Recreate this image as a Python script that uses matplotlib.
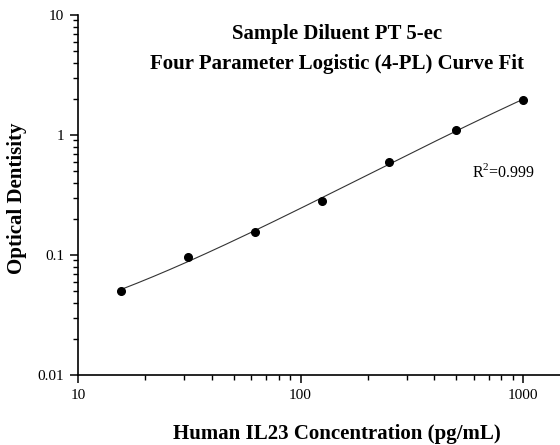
import numpy as np
import matplotlib
matplotlib.use('Agg')
import matplotlib.pyplot as plt
from matplotlib.ticker import LogLocator, FixedLocator, FixedFormatter, NullFormatter

# standard curve points
conc = [15.6, 31.25, 62.5, 125, 250, 500, 1000]
od = [0.050, 0.096, 0.155, 0.280, 0.596, 1.10, 1.96]
x_ticks = [10, 100, 1000]
x_ticklabels = ['10', '100', '1000']
y_ticks = [0.01, 0.1, 1, 10]
y_ticklabels = ['0.01', '0.1', '1', '10']
title = 'Sample Diluent PT 5-ec\nFour Parameter Logistic (4-PL) Curve Fit'
r2_text = 'R$^2$=0.999'

x = np.array(conc)
y = np.array(od)


def fourpl(p, xx):
    a, b, logc, logd = p
    c, d = np.exp(logc), np.exp(logd)
    return d + (a - d) / (1 + (xx / c) ** b)


def resid(p):
    v = fourpl(p, x)
    return np.log(np.clip(v, 1e-9, None)) - np.log(y)


# small Levenberg-Marquardt fit (no scipy)
p = np.array([0.02, 1.0, np.log(2000.0), np.log(10.0)])
lam = 1e-2
r = resid(p)
for it in range(500):
    J = np.zeros((len(x), 4))
    for k in range(4):
        dp = np.zeros(4)
        dp[k] = 1e-6
        J[:, k] = (resid(p + dp) - r) / 1e-6
    H = J.T @ J
    g = J.T @ r
    step = np.linalg.solve(H + lam * np.diag(np.diag(H) + 1e-12), -g)
    pn = p + step
    rn = resid(pn)
    if np.all(np.isfinite(rn)) and rn @ rn < r @ r:
        p, r = pn, rn
        lam = max(lam / 3, 1e-9)
    else:
        lam *= 4

xs = np.logspace(np.log10(x[0]), np.log10(x[-1]), 200)
ys = fourpl(p, xs)

plt.rcParams['font.family'] = ['Liberation Serif', 'DejaVu Serif']
plt.rcParams['mathtext.fontset'] = 'custom'
plt.rcParams['mathtext.rm'] = 'Liberation Serif'

fig = plt.figure(figsize=(5.6, 4.45), dpi=100)
ax = fig.add_axes([78/560, 1-375/445, 1-78/560, 360/445])

ax.plot(xs, ys, color='#333333', linewidth=0.8)
ax.plot(x, y, 'o', color='black', markersize=5.5)

ax.set_xscale('log')
ax.set_yscale('log')
ax.set_xlim(10, 1466)
ax.set_ylim(0.01, 10)

ax.spines['top'].set_visible(False)
ax.spines['right'].set_visible(False)
for s in ['left', 'bottom']:
    ax.spines[s].set_linewidth(1.2)

ax.xaxis.set_major_locator(FixedLocator(x_ticks))
ax.xaxis.set_major_formatter(FixedFormatter(x_ticklabels))
ax.yaxis.set_major_locator(FixedLocator(y_ticks))
ax.yaxis.set_major_formatter(FixedFormatter(y_ticklabels))
ax.xaxis.set_minor_locator(LogLocator(base=10, subs=np.arange(2, 10)))
ax.yaxis.set_minor_locator(LogLocator(base=10, subs=np.arange(2, 10)))
ax.xaxis.set_minor_formatter(NullFormatter())
ax.yaxis.set_minor_formatter(NullFormatter())
ax.tick_params(which='major', direction='out', length=6, width=1.1, labelsize=11, pad=4)
ax.tick_params(which='minor', direction='out', length=3.5, width=1.0)

ax.set_xlabel('Human IL23 Concentration (pg/mL)', fontsize=15, fontweight='bold')
ax.xaxis.set_label_coords((337 - 78) / 482, -0.135)
ax.set_ylabel('Optical Dentisity', fontsize=15, fontweight='bold')
ax.yaxis.set_label_coords(-0.106, 0.49)

fig.text(337/560, 1-49/445, title, ha='center', va='center', fontsize=15,
         fontweight='bold', linespacing=1.6)
fig.text(472/560, 1-172/445, r2_text, ha='left', va='center', fontsize=11.5)

fig.savefig('out.png', dpi=100)
